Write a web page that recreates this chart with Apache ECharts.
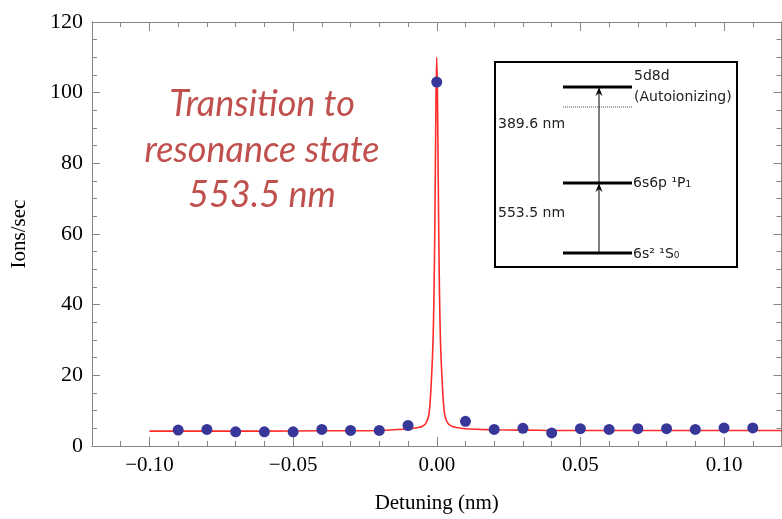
<!DOCTYPE html>
<html>
<head>
<meta charset="utf-8">
<script src="https://cdn.jsdelivr.net/npm/echarts@6/dist/echarts.min.js"></script>
<style>
  html, body { margin: 0; padding: 0; background: #fff; }
  #chart { width: 782px; height: 519px; }
</style>
</head>
<body>
<div id="chart"></div>
<script>
// Measured ion counts versus laser detuning
const detuning = [-0.09, -0.08, -0.07, -0.06, -0.05, -0.04, -0.03, -0.02, -0.01, 0.00,
                  0.01, 0.02, 0.03, 0.04, 0.05, 0.06, 0.07, 0.08, 0.09, 0.10, 0.11];
const ionRate = [4.5, 4.7, 4.0, 4.0, 4.0, 4.7, 4.4, 4.4, 5.8, 103,
                 7.0, 4.7, 5.0, 3.7, 4.9, 4.7, 4.9, 4.9, 4.7, 5.1, 5.1];

// Fitted line profile (sampled)
const fitDetuning = [-0.10, -0.08, -0.06, -0.04, -0.03, -0.02, -0.015, -0.01, -0.008, -0.006,
                     -0.005, -0.004, -0.003, -0.0025, -0.002, -0.0015, -0.00125, -0.001, -0.00075,
                     -0.0005, -0.00025, 0,
                     0.00025, 0.0005, 0.00075, 0.001, 0.00125, 0.0015, 0.002, 0.0025, 0.003,
                     0.004, 0.005, 0.006, 0.008, 0.01, 0.015, 0.02, 0.03, 0.04, 0.06, 0.08, 0.10, 0.12];
const fitRate = [4.2, 4.2, 4.2, 4.3, 4.3, 4.4, 4.6, 4.8, 5.0, 5.3,
                 5.6, 6.2, 7.9, 10.4, 16.5, 25, 31, 41, 56,
                 77, 99, 110,
                 99, 77, 56, 41, 31, 25, 16.6, 10.5, 8.0,
                 6.3, 5.7, 5.4, 5.1, 4.9, 4.7, 4.6, 4.5, 4.4, 4.4, 4.4, 4.4, 4.4];

// Tick positions
const xMajorTicks = [-0.10, -0.05, 0.00, 0.05, 0.10];
const xMinorTicks = [-0.12, -0.11, -0.09, -0.08, -0.07, -0.06, -0.04, -0.03, -0.02, -0.01,
                     0.01, 0.02, 0.03, 0.04, 0.06, 0.07, 0.08, 0.09, 0.11, 0.12];
const yMajorTicks = [0, 20, 40, 60, 80, 100, 120];
const yMinorTicks = [5, 10, 15, 25, 30, 35, 45, 50, 55, 65, 70, 75, 85, 90, 95, 105, 110, 115];

const frameColor = '#858585';
const serif = '"Liberation Serif", "DejaVu Serif", serif';

function fmtX(v) {
  const s = Math.abs(v).toFixed(2);
  return v < -1e-9 ? '\u2212' + s : s;
}

function makeAxis(kind, position, ticks, len, major) {
  return {
    type: 'value',
    position: position,
    min: kind === 'x' ? -0.12 : 0,
    max: kind === 'x' ? 0.12 : 120,
    splitLine: { show: false },
    axisLine: { show: major, onZero: false, lineStyle: { color: frameColor, width: 1 } },
    axisTick: { show: true, inside: true, length: len, customValues: ticks,
                lineStyle: { color: frameColor, width: 1 } },
    axisLabel: { show: false }
  };
}

const xAxes = [
  makeAxis('x', 'bottom', xMajorTicks, 9, true),
  makeAxis('x', 'bottom', xMinorTicks, 5, false),
  makeAxis('x', 'top', xMajorTicks, 9, true),
  makeAxis('x', 'top', xMinorTicks, 5, false)
];
xAxes[0].axisLabel = {
  show: true, customValues: xMajorTicks, margin: 9,
  fontFamily: serif, fontSize: 21, color: '#000', formatter: fmtX
};
xAxes[0].name = 'Detuning (nm)';
xAxes[0].nameLocation = 'middle';
xAxes[0].nameGap = 47;
xAxes[0].nameTextStyle = { fontFamily: serif, fontSize: 21, color: '#000' };

const yAxes = [
  makeAxis('y', 'left', yMajorTicks, 8, true),
  makeAxis('y', 'left', yMinorTicks, 5, false),
  makeAxis('y', 'right', yMajorTicks, 8, true),
  makeAxis('y', 'right', yMinorTicks, 5, false)
];
yAxes[0].axisLabel = {
  show: true, customValues: yMajorTicks, margin: 9,
  fontFamily: serif, fontSize: 22, color: '#000'
};
yAxes[0].name = 'Ions/sec';
yAxes[0].nameLocation = 'middle';
yAxes[0].nameGap = 62;
yAxes[0].nameTextStyle = { fontFamily: serif, fontSize: 21, color: '#000' };

// Energy-level inset
const box = { x: 495, y: 62, w: 242, h: 205 };
const lvlX1 = 563, lvlX2 = 632, arrowX = 599;
const yTop = 87, yDot = 107, yMid = 183, yBot = 253;
const insetFont = '"DejaVu Sans", sans-serif';
const insetText = (x, y, text, align) => ({
  type: 'text', x: x, y: y, z: 20,
  style: { text: text, fill: '#222', font: '14px ' + insetFont,
           textAlign: align || 'left', textVerticalAlign: 'middle' }
});
const level = y => ({ type: 'line', z: 20,
  shape: { x1: lvlX1, y1: y, x2: lvlX2, y2: y },
  style: { stroke: '#000', lineWidth: 3 } });
const arrowHead = y => ({ type: 'polygon', z: 21,
  shape: { points: [[arrowX, y], [arrowX - 3.5, y + 9], [arrowX, y + 6], [arrowX + 3.5, y + 9]] },
  style: { fill: '#000' } });

const annotationColor = '#c0504d';
const annotationFont = 'italic 36px Lato, "Open Sans", sans-serif';
const annotation = (y, text) => ({
  type: 'text', x: 262, y: y, z: 20,
  style: { text: text, fill: annotationColor, font: annotationFont,
           textAlign: 'center', textVerticalAlign: 'middle' }
});

const chart = echarts.init(document.getElementById('chart'), null, { renderer: 'canvas' });
chart.setOption({
  animation: false,
  backgroundColor: '#fff',
  grid: { left: 92, top: 22, width: 689.5, height: 428, containLabel: false },
  xAxis: xAxes,
  yAxis: yAxes,
  series: [
    {
      type: 'line',
      data: fitDetuning.map((x, i) => [x, fitRate[i]]),
      showSymbol: false,
      smooth: 0.25,
      lineStyle: { color: '#ff2a2a', width: 1.6 },
      z: 2
    },
    {
      type: 'scatter',
      data: detuning.map((x, i) => [x, ionRate[i]]),
      symbol: 'circle',
      symbolSize: 11,
      itemStyle: { color: '#37379a', opacity: 1 },
      z: 3
    }
  ],
  graphic: [
    annotation(104, 'Transition to'),
    annotation(150, 'resonance state'),
    annotation(195, '553.5 nm'),
    { type: 'rect', z: 19,
      shape: { x: box.x, y: box.y, width: box.w, height: box.h },
      style: { fill: '#fff', stroke: '#000', lineWidth: 2 } },
    { type: 'line', z: 20,
      shape: { x1: lvlX1, y1: yDot, x2: lvlX2, y2: yDot },
      style: { stroke: '#555', lineWidth: 1, lineDash: [1, 1] } },
    level(yTop), level(yMid), level(yBot),
    { type: 'line', z: 20,
      shape: { x1: arrowX, y1: yBot, x2: arrowX, y2: yMid + 4 },
      style: { stroke: '#000', lineWidth: 1 } },
    { type: 'line', z: 20,
      shape: { x1: arrowX, y1: yMid, x2: arrowX, y2: yTop + 4 },
      style: { stroke: '#000', lineWidth: 1 } },
    arrowHead(yMid), arrowHead(yTop),
    insetText(634, 76, '5d8d'),
    insetText(634, 97, '(Autoionizing)'),
    insetText(498, 124, '389.6 nm'),
    insetText(633, 183, '6s6p \u00B9P\u2081'),
    insetText(498, 213, '553.5 nm'),
    insetText(633, 254, '6s\u00B2 \u00B9S\u2080')
  ]
});
</script>
</body>
</html>
